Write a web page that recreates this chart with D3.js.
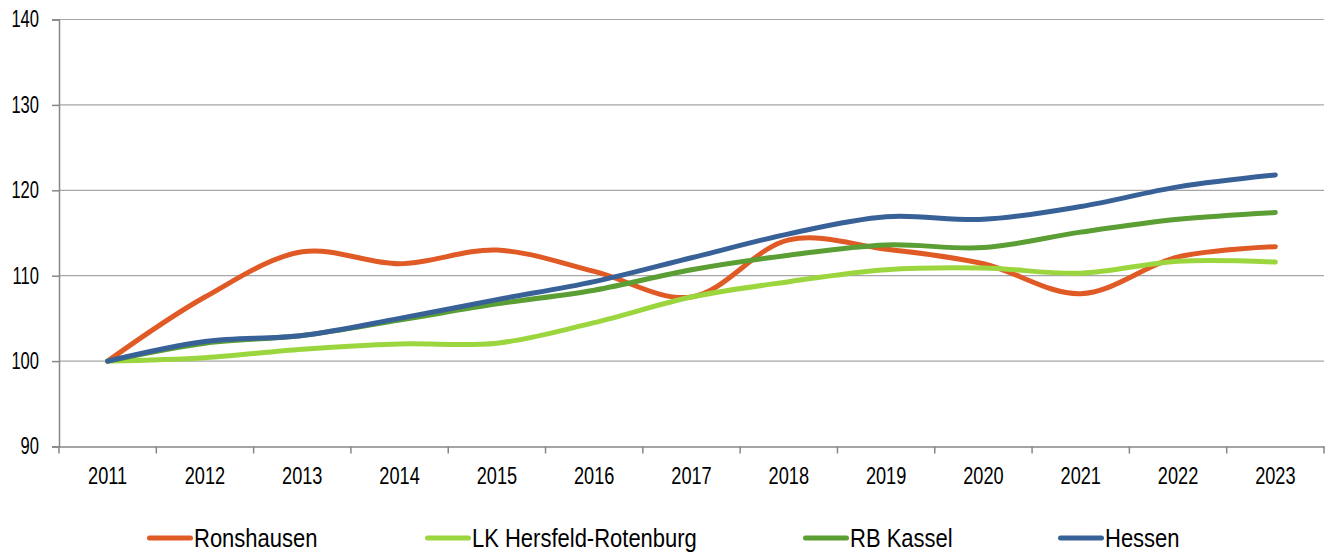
<!DOCTYPE html>
<html lang="de">
<head>
<meta charset="UTF-8">
<title>Bevölkerungsentwicklung</title>
<script src="https://d3js.org/d3.v7.min.js"></script>
<style>
  *{margin:0;padding:0;box-sizing:border-box}
  body{background:#fff;width:1329px;height:556px;overflow:hidden}
  text{font-family:"Liberation Sans Narrow","Liberation Sans",Arial,sans-serif;fill:#000}
</style>
</head>
<body>
<div id="chart"></div>
<script>
/* ---------- DATA ---------- */
const years = ['2011','2012','2013','2014','2015','2016','2017','2018','2019','2020','2021','2022','2023'];
const ronshausen = [100,107.5,112.8,111.4,113.0,110.5,107.5,114.2,113.1,111.4,107.9,112.2,113.4];
const lkHersfeld = [100,100.4,101.4,102.0,102.1,104.5,107.5,109.3,110.7,110.9,110.3,111.7,111.6];
const rbKassel   = [100,102.1,103.0,104.8,106.7,108.3,110.7,112.4,113.6,113.3,115.1,116.6,117.4];
const hessen     = [100,102.3,103.0,105.0,107.2,109.3,112.1,114.9,116.9,116.6,118.1,120.4,121.8];
const yTicks = [90,100,110,120,130,140];

const series = [
  {name:'Ronshausen',            values:ronshausen, color:'#e05a25'},
  {name:'LK Hersfeld-Rotenburg', values:lkHersfeld, color:'#9cd63f'},
  {name:'RB Kassel',             values:rbKassel,   color:'#5a9e34'},
  {name:'Hessen',                values:hessen,     color:'#386197'}
];
const legendX = [147,425,803,1058];

/* ---------- LAYOUT ---------- */
const W=1329,H=556;
const mLeft=59,mRight=1324,mTop=19.5,mBottom=446.5;
const narrow=0.75;   // condensed look of the original tick font

const svg=d3.select('#chart').append('svg').attr('width',W).attr('height',H);

const x=d3.scaleBand().domain(years).range([mLeft,mRight]).paddingInner(0).paddingOuter(0);
const y=d3.scaleLinear().domain([90,140]).range([mBottom,mTop]);
const cx=d=>x(d)+x.bandwidth()/2;

/* gridlines */
svg.append('g').selectAll('line').data(yTicks.filter(t=>t>90)).join('line')
   .attr('x1',mLeft).attr('x2',mRight).attr('y1',d=>y(d)).attr('y2',d=>y(d))
   .attr('stroke','#a6a6a6').attr('stroke-width',1.2);

/* y axis */
const yAxis=svg.append('g').attr('transform',`translate(${mLeft},0)`)
   .call(d3.axisLeft(y).tickValues(yTicks).tickSize(7).tickPadding(20));
yAxis.select('.domain').attr('stroke','#868686').attr('stroke-width',1.5);
yAxis.selectAll('.tick line').attr('stroke','#868686').attr('stroke-width',1.5);
yAxis.selectAll('.tick text').attr('font-size',23).attr('font-family',null)
   .attr('x',0).attr('transform',`translate(-20,0) scale(0.72,1)`);

/* x axis */
const xAxis=svg.append('g').attr('transform',`translate(0,${mBottom})`)
   .call(d3.axisBottom(x).tickSize(0).tickPadding(21));
xAxis.select('.domain').attr('stroke','#868686').attr('stroke-width',1.5);
xAxis.selectAll('.tick text').attr('font-size',23).attr('font-family',null)
   .attr('transform',`scale(0.79,1)`);
/* tick marks between categories */
svg.append('g').selectAll('line').data(years.concat(['end'])).join('line')
   .attr('x1',(d,i)=>mLeft+i*x.bandwidth()).attr('x2',(d,i)=>mLeft+i*x.bandwidth())
   .attr('y1',mBottom).attr('y2',mBottom+7)
   .attr('stroke','#868686').attr('stroke-width',1.5);

/* lines */
const line=d3.line().x((d,i)=>cx(years[i])).y(d=>y(d)).curve(d3.curveCatmullRom.alpha(0.5));
svg.append('g').attr('fill','none').selectAll('path').data(series).join('path')
   .attr('d',d=>line(d.values))
   .attr('stroke',d=>d.color).attr('stroke-width',5)
   .attr('stroke-linecap','round').attr('stroke-linejoin','round');

/* legend */
const lg=svg.append('g').selectAll('g').data(series).join('g')
   .attr('transform',(d,i)=>`translate(${legendX[i]},538)`);
lg.append('line').attr('x1',2.5).attr('x2',43.5).attr('y1',0).attr('y2',0)
   .attr('stroke',d=>d.color).attr('stroke-width',5).attr('stroke-linecap','round');
lg.append('text').attr('x',0).attr('y',0).attr('dy','0.36em')
   .attr('transform','translate(47,0) scale(0.88,1)')
   .attr('font-size',25).text(d=>d.name);
</script>
</body>
</html>
